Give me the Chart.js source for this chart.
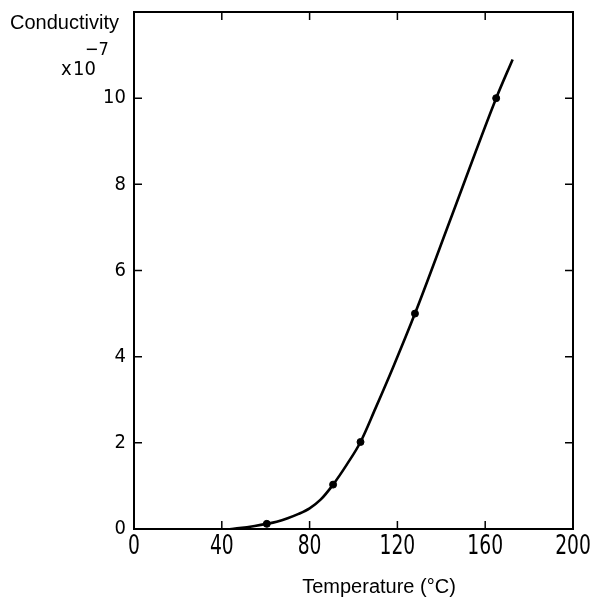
<!DOCTYPE html>
<html>
<head>
<meta charset="utf-8">
<script src="https://cdn.jsdelivr.net/npm/chart.js@4.4.1/dist/chart.umd.min.js"></script>
<style>
  html, body { margin: 0; padding: 0; background: #fff; }
  #chart { display: block; }
</style>
</head>
<body>
<canvas id="chart" width="590" height="600"></canvas>
<script>
// Measured points (temperature in °C, conductivity in units of 1e-7)
const measuredTemp = [60.5, 90.7, 103.2, 128, 165];
const measuredCond = [0.12, 1.03, 2.02, 5.0, 10.0];

// Smooth curve drawn through the measurements
const curveTemp = [44, 48, 55, 60.5, 65, 70, 75, 80, 85, 90.7, 97, 103.2, 110, 118, 128, 145, 165, 172.5];
const curveCond = [0, 0.02, 0.07, 0.12, 0.17, 0.25, 0.35, 0.48, 0.68, 1.03, 1.5, 2.02, 2.8, 3.75, 5.0, 7.3, 10.0, 10.9];

// Axis ranges and tick steps
const xTicks = [0, 40, 80, 120, 160, 200];
const yTicks = [0, 2, 4, 6, 8, 10, 12];

const narrowFont = "'Liberation Sans Narrow', 'DejaVu Sans Condensed', sans-serif";
const plainFont = "'Liberation Sans', 'DejaVu Sans', sans-serif";

// Frame, inward tick marks on all four sides, x labels and axis captions
const framePlugin = {
    id: 'frame',
    afterDraw(chart) {
        const ctx = chart.ctx;
        const area = chart.chartArea;
        const xs = chart.scales.x;
        const ys = chart.scales.y;
        const tickLen = 8;

        ctx.save();
        ctx.strokeStyle = '#000';
        ctx.lineWidth = 2;
        ctx.strokeRect(area.left, area.top, area.right - area.left, area.bottom - area.top);

        ctx.lineWidth = 1.5;
        ctx.beginPath();
        xTicks.slice(1, -1).forEach(v => {
            const px = xs.getPixelForValue(v);
            ctx.moveTo(px, area.bottom);
            ctx.lineTo(px, area.bottom - tickLen);
            ctx.moveTo(px, area.top);
            ctx.lineTo(px, area.top + tickLen);
        });
        yTicks.slice(1, -1).forEach(v => {
            const py = ys.getPixelForValue(v);
            ctx.moveTo(area.left, py);
            ctx.lineTo(area.left + tickLen, py);
            ctx.moveTo(area.right, py);
            ctx.lineTo(area.right - tickLen, py);
        });
        ctx.stroke();

        ctx.fillStyle = '#000';

        // tall, narrow x tick labels
        ctx.font = '26px ' + narrowFont;
        ctx.textAlign = 'center';
        ctx.textBaseline = 'alphabetic';
        xTicks.forEach(v => {
            ctx.save();
            ctx.translate(xs.getPixelForValue(v), area.bottom + 25);
            ctx.scale(0.8, 1);
            ctx.fillText(String(v), 0, 0);
            ctx.restore();
        });

        ctx.textAlign = 'left';
        ctx.font = '20px ' + plainFont;
        ctx.fillText('Conductivity', 10, 29);

        ctx.font = '20px ' + narrowFont;
        ctx.fillText('x', 61, 75);
        ctx.fillText('10', 73, 75);
        ctx.font = '18px ' + narrowFont;
        ctx.fillText('\u22127', 85, 55);

        ctx.textAlign = 'center';
        ctx.font = '20px ' + plainFont;
        ctx.fillText('Temperature (\u00B0C)', 379, 593);
        ctx.restore();
    }
};

new Chart(document.getElementById('chart'), {
    type: 'scatter',
    data: {
        datasets: [
            {
                label: 'curve',
                data: curveTemp.map((t, i) => ({ x: t, y: curveCond[i] })),
                showLine: true,
                borderColor: '#000',
                borderWidth: 2.6,
                pointRadius: 0,
                cubicInterpolationMode: 'monotone'
            },
            {
                label: 'measured',
                data: measuredTemp.map((t, i) => ({ x: t, y: measuredCond[i] })),
                backgroundColor: '#000',
                borderColor: '#000',
                pointRadius: 3.5,
                pointStyle: 'circle'
            }
        ]
    },
    options: {
        responsive: false,
        animation: false,
        layout: { padding: { left: 0, right: 17, top: 12, bottom: 0 } },
        plugins: {
            legend: { display: false },
            tooltip: { enabled: false }
        },
        scales: {
            x: {
                type: 'linear',
                min: 0,
                max: 200,
                afterBuildTicks: scale => { scale.ticks = xTicks.map(v => ({ value: v })); },
                afterFit: scale => {
                    scale.height = 71;
                    scale.paddingLeft = 0;
                    scale.paddingRight = 0;
                },
                grid: { display: false, drawTicks: false },
                border: { display: false },
                ticks: { display: false }
            },
            y: {
                type: 'linear',
                min: 0,
                max: 12,
                afterBuildTicks: scale => { scale.ticks = yTicks.map(v => ({ value: v })); },
                afterFit: scale => {
                    scale.width = 134;
                    scale.paddingTop = 0;
                    scale.paddingBottom = 0;
                },
                grid: { display: false, drawTicks: false },
                border: { display: false },
                ticks: {
                    color: '#000',
                    padding: 8,
                    font: { family: narrowFont, size: 20 },
                    callback: v => (v === 12 ? '' : v)
                }
            }
        }
    },
    plugins: [framePlugin]
});
</script>
</body>
</html>
